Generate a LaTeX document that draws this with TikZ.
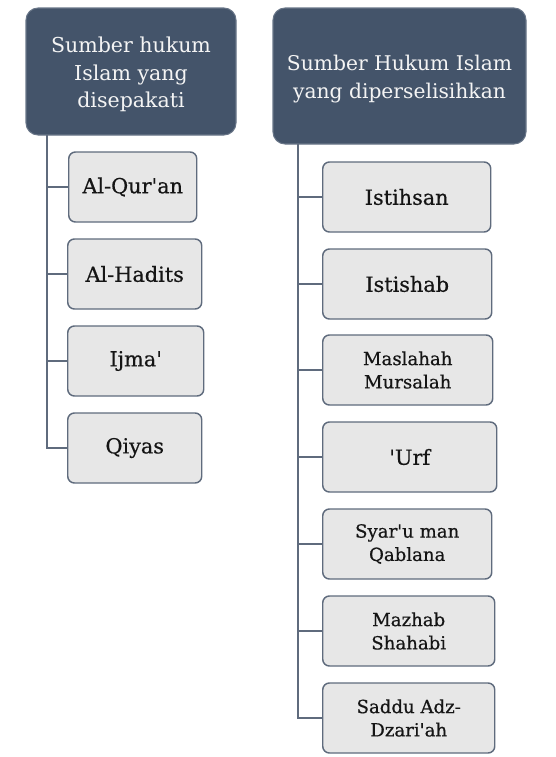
\documentclass[tikz,border=0pt]{standalone}
\usepackage{fontspec}
\setmainfont{DejaVu Serif}[Ligatures=TeXOff]
\newfontfamily\kidfont{DejaVu Serif}[Ligatures=TeXOff, FakeBold=0.5]
\definecolor{hdr}{HTML}{44546A}
\definecolor{kid}{HTML}{E7E7E7}
\definecolor{kidline}{HTML}{5F6B7D}
\definecolor{conn}{HTML}{5F6B7D}
\definecolor{hdrtext}{HTML}{F4F4F4}
\definecolor{kidtext}{HTML}{151515}
\begin{document}
\begin{tikzpicture}[x=0.75pt,y=-0.75pt,
  hdrbox/.style={draw=hdr!80!white, line width=0.8pt, fill=hdr, rounded corners=9pt, inner sep=0pt},
  hdrtxt/.style={text=hdrtext, align=center, inner sep=0pt},
  kidbox/.style={draw=kidline, line width=1.1pt, fill=kid, rounded corners=5pt, text=kidtext, align=center, inner sep=0pt, minimum height=52.5pt, anchor=west, font=\kidfont\fontsize{15.6}{18}\selectfont},
  kidsmall/.style={kidbox, font=\kidfont\fontsize{13.6}{17.5}\selectfont},
  link/.style={draw=conn, line width=1.1pt}
]
\useasboundingbox (0,0) rectangle (556,757);
% headers
\node[hdrbox, minimum width=157.5pt, minimum height=95.25pt] (h1) at (131,71.5) {};
\node[hdrtxt, font=\fontsize{15.4}{20.5}\selectfont] (h1t) at (131,74.5) {Sumber hukum\\Islam yang\\disepakati};
\node[hdrbox, minimum width=189.75pt, minimum height=102pt] (h2) at (399.5,76) {};
\node[hdrtxt, font=\fontsize{15.2}{21.5}\selectfont] (h2t) at (399.5,79) {Sumber Hukum Islam\\yang diperselisihkan};
% left children
\node[kidbox, minimum width=96pt] (a1) at (68,187) {Al-Qur'an};
\node[kidbox, minimum width=100.5pt] (a2) at (67,274) {Al-Hadits};
\node[kidbox, minimum width=102pt] (a3) at (67,361) {Ijma'};
\node[kidbox, minimum width=100.5pt] (a4) at (67,448) {Qiyas};
% right children
\node[kidbox, minimum width=126pt] (b1) at (322,197) {Istihsan};
\node[kidbox, minimum width=126.75pt] (b2) at (322,284) {Istishab};
\node[kidsmall, minimum width=127.5pt] (b3) at (322,370) {Maslahah\\Mursalah};
\node[kidbox, minimum width=130.5pt] (b4) at (322,457) {'Urf};
\node[kidsmall, minimum width=126.75pt] (b5) at (322,544) {Syar'u man\\Qablana};
\node[kidsmall, minimum width=129pt] (b6) at (322,631) {Mazhab\\Shahabi};
\node[kidsmall, minimum width=129pt] (b7) at (322,718) {Saddu Adz-\\Dzari'ah};
% trunks
\coordinate (t1) at (47,135);
\coordinate (t2) at (298,144);
\draw[link] (t1) |- (a4.west);
\foreach \c in {a1,a2,a3} \draw[link] (t1 |- \c.west) -- (\c.west);
\draw[link] (t2) |- (b7.west);
\foreach \c in {b1,b2,b3,b4,b5,b6} \draw[link] (t2 |- \c.west) -- (\c.west);
\end{tikzpicture}
\end{document}
